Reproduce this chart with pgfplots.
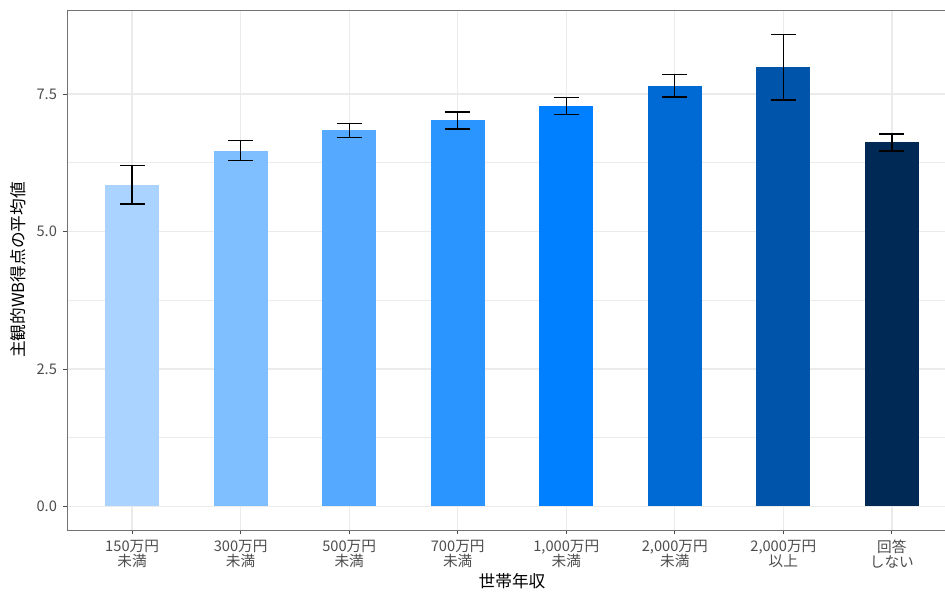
\documentclass[border=0pt]{standalone}
\usepackage{pgfplots}
\pgfplotsset{compat=1.18}
\usepackage{fontspec}
\setmainfont{Noto Sans CJK JP}

\definecolor{c1}{HTML}{AAD4FF}
\definecolor{c2}{HTML}{7FBFFF}
\definecolor{c3}{HTML}{55AAFF}
\definecolor{c4}{HTML}{2A94FF}
\definecolor{c5}{HTML}{007FFF}
\definecolor{c6}{HTML}{006AD4}
\definecolor{c7}{HTML}{0055AA}
\definecolor{c8}{HTML}{002A55}
\definecolor{gridgray}{HTML}{EBEBEB}
\definecolor{ticktext}{HTML}{4D4D4D}

\begin{document}
\begin{tikzpicture}
\begin{axis}[
  scale only axis,
  width=667.5pt, height=390pt,
  xmin=0.4, xmax=8.6,
  ymin=-0.43, ymax=9.03,
  ybar, bar width=0.5, bar shift=0pt,
  xtick={1,2,3,4,5,6,7,8},
  xticklabels={{150万円\\未満},{300万円\\未満},{500万円\\未満},{700万円\\未満},{1,000万円\\未満},{2,000万円\\未満},{2,000万円\\以上},{回答\\しない}},
  ytick={0,2.5,5,7.5},
  minor y tick num=1,
  minor tick length=0pt,
  major tick length=3pt,
  tick align=outside,
  tick pos=left,
  tick style={color=black!70, line width=0.6pt},
  /pgf/number format/fixed,
  /pgf/number format/fixed zerofill,
  /pgf/number format/precision=1,
  /pgf/number format/assume math mode=true,
  ticklabel style={font=\fontsize{11}{11.5}\selectfont, text=ticktext},
  xticklabel style={align=center, yshift=-1pt},
  yticklabel style={xshift=-1pt},
  xmajorgrids, ymajorgrids, yminorgrids,
  major grid style={gridgray, line width=1pt},
  minor grid style={gridgray, line width=0.55pt},
  axis line style={black!55, line width=0.6pt},
  every axis x label/.style={at={(rel axis cs:0.5,0)}, yshift=-38.5pt, anchor=center},
  every axis y label/.style={at={(rel axis cs:0,0.5)}, xshift=-36.5pt, rotate=90, anchor=center},
  label style={font=\fontsize{12.5}{14}\selectfont},
  xlabel={世帯年収},
  ylabel={主観的WB得点の平均値},
  error bars/y dir=both, error bars/y explicit,
  error bars/error bar style={black, line width=1pt},
  error bars/error mark options={rotate=90, mark size=9.4pt, line width=1pt, black},
]
  % mean score per income bracket, with its error range
  \addplot[fill=c1, draw=none] coordinates {(1,5.85) +- (0,0.35)};
  \addplot[fill=c2, draw=none] coordinates {(2,6.47) +- (0,0.18)};
  \addplot[fill=c3, draw=none] coordinates {(3,6.84) +- (0,0.13)};
  \addplot[fill=c4, draw=none] coordinates {(4,7.02) +- (0,0.155)};
  \addplot[fill=c5, draw=none] coordinates {(5,7.28) +- (0,0.155)};
  \addplot[fill=c6, draw=none] coordinates {(6,7.65) +- (0,0.205)};
  \addplot[fill=c7, draw=none] coordinates {(7,7.99) +- (0,0.60)};
  \addplot[fill=c8, draw=none] coordinates {(8,6.62) +- (0,0.155)};
  \coordinate (sw) at (rel axis cs:0,0);
  \coordinate (ne) at (rel axis cs:1,1);
\end{axis}
\pgfresetboundingbox
\path[use as bounding box] ([xshift=-50.25pt,yshift=-49.5pt]sw) rectangle ([xshift=-9pt,yshift=7.5pt]ne);
\end{tikzpicture}
\end{document}
